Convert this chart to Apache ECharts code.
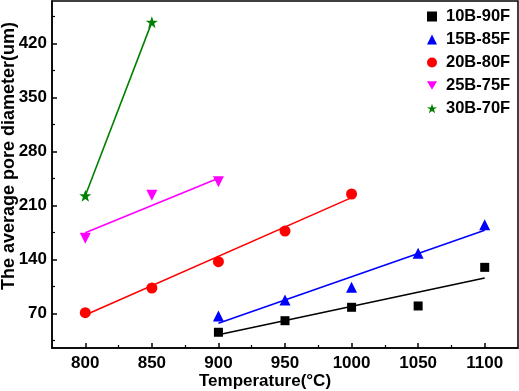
<!DOCTYPE html>
<html><head><meta charset="utf-8">
<script src="https://cdn.jsdelivr.net/npm/echarts@6/dist/echarts.min.js"></script>
<style>html,body{margin:0;padding:0;background:#fff}#c{width:519px;height:391px}</style>
</head><body><div id="c"></div>
<script>
// Data
const names = ['10B-90F','15B-85F','20B-80F','25B-75F','30B-70F'];
const s10x = [900, 950, 1000, 1050, 1100];
const s10y = [45.4, 60.4, 77.8, 79.5, 129.6];
const s15x = [900, 950, 1000, 1050, 1100];
const s15y = [66.5, 87.2, 103.7, 147.8, 184.9];
const s20x = [800, 850, 900, 950, 1000];
const s20y = [70.8, 102.8, 136.9, 176.7, 224.7];
const s25x = [800, 850, 900];
const s25y = [167.2, 223.0, 240.6];
const s30x = [800, 850];
const s30y = [222.5, 447.6];
// Linear-fit line endpoints
const fit10 = [[900, 42.3], [1100, 115.8]];
const fit15 = [[900, 57.0], [1100, 177.8]];
const fit20 = [[800, 67.8], [1000, 220.0]];
const fit25 = [[800, 174.5], [900, 245.0]];
const fit30 = [[800, 222.5], [850, 447.6]];
// Ticks
const xTicks = [800, 850, 900, 950, 1000, 1050, 1100];
const xMinor = [825, 875, 925, 975, 1025, 1075];
const yTicks = [70, 140, 210, 280, 350, 420];
const yMinor = [35, 105, 175, 245, 315, 385, 455];
const xTitle = 'Temperature(°C)';
const yTitle = 'The average pore diameter(um)';

const colors = ['#000000', '#0000ff', '#ff0000', '#ff00ff', '#008000'];
const star = 'path://M50,0 L61.8,35.1 L97.6,34.5 L68.8,55.9 L79.4,90.5 L50,69.5 L20.6,90.5 L31.2,55.9 L2.4,34.5 L38.2,35.1 Z';
const downTri = 'path://M0,0 L100,0 L50,87 Z';
const symbols = ['rect', 'triangle', 'circle', downTri, star];
const sizes = [9, 11, 11, 11, 12];
const xs = [s10x, s15x, s20x, s25x, s30x];
const ys = [s10y, s15y, s20y, s25y, s30y];
const fits = [fit10, fit15, fit20, fit25, fit30];

const fontFamily = 'Liberation Sans, Arial, sans-serif';
const font = {fontFamily: fontFamily, fontWeight: 'bold', color: '#000'};
const series = [];
for (let i = 0; i < 5; i++) {
  series.push({
    type: 'line', data: fits[i], symbol: 'none', silent: true,
    lineStyle: {color: colors[i], width: 1.6}, z: 2
  });
}
for (let i = 0; i < 5; i++) {
  series.push({
    name: names[i], type: 'scatter', data: xs[i].map((x, k) => [x, ys[i][k]]),
    symbol: symbols[i], symbolSize: sizes[i], itemStyle: {color: colors[i], opacity: 1}, z: 3
  });
}
const plain = v => String(v);
const chart = echarts.init(document.getElementById('c'), null, {renderer: 'canvas'});
chart.setOption({
  animation: false,
  grid: {left: 52, top: 1, right: 1, bottom: 43, show: true, borderColor: '#000', borderWidth: 1.5,
         outerBoundsMode: 'none', containLabel: false},
  legend: {
    data: names.map((n, i) => ({name: n, icon: symbols[i]})),
    orient: 'vertical', left: 422, top: 3, itemGap: 6, itemWidth: 10, itemHeight: 10,
    textStyle: Object.assign({fontSize: 16.5, padding: [0, 0, 0, 4]}, font)
  },
  graphic: [{
    type: 'text', x: 265, y: 381, silent: true,
    style: {text: xTitle, fill: '#000', font: 'bold 17px ' + fontFamily, align: 'center', verticalAlign: 'middle'}
  }, {
    type: 'text', x: 9, y: 156, rotation: Math.PI / 2, silent: true,
    style: {text: yTitle, fill: '#000', font: 'bold 18px ' + fontFamily, align: 'center', verticalAlign: 'middle'}
  }],
  xAxis: [{
    type: 'value', min: 775, max: 1125,
    axisLine: {lineStyle: {color: '#000', width: 1.5}},
    axisTick: {inside: true, length: 5, customValues: xTicks, lineStyle: {color: '#000', width: 1.5}},
    axisLabel: Object.assign({fontSize: 17, margin: 7, customValues: xTicks, formatter: plain}, font),
    splitLine: {show: false}
  }, {
    type: 'value', min: 775, max: 1125, position: 'bottom',
    axisLine: {show: false},
    axisTick: {inside: true, length: 3, customValues: xMinor, lineStyle: {color: '#000', width: 1.2}},
    axisLabel: {show: false}, splitLine: {show: false}
  }],
  yAxis: [{
    type: 'value', min: 25, max: 475,
    axisLine: {lineStyle: {color: '#000', width: 1.5}},
    axisTick: {inside: true, length: 5, customValues: yTicks, lineStyle: {color: '#000', width: 1.5}},
    axisLabel: Object.assign({fontSize: 17, margin: 5, customValues: yTicks, formatter: plain}, font),
    splitLine: {show: false}
  }, {
    type: 'value', min: 25, max: 475, position: 'left',
    axisLine: {show: false},
    axisTick: {inside: true, length: 3, customValues: yMinor, lineStyle: {color: '#000', width: 1.2}},
    axisLabel: {show: false}, splitLine: {show: false}
  }],
  series: series
});
</script></body></html>
